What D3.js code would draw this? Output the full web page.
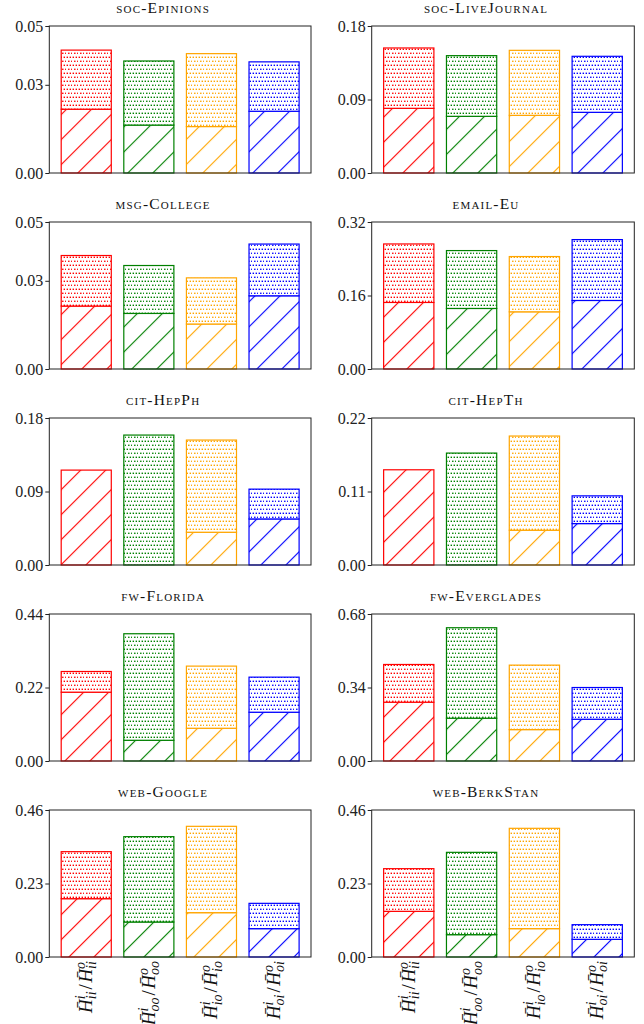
<!DOCTYPE html>
<html><head><meta charset="utf-8">
<script src="https://cdn.jsdelivr.net/npm/d3@7"></script>
<style>body{margin:0;background:#fff}</style>
</head><body>
<svg id="c" width="644" height="1024"></svg>
<script>
const datasets = ["soc-Epinions","soc-LiveJournal","msg-College","email-Eu","cit-HepPh","cit-HepTh","fw-Florida","fw-Everglades","web-Google","web-BerkStan"];
const categories = ["ii","oo","io","oi"];
const colors = ["#ff0000","#008000","#ffa500","#0000ff"];
const yMax = [0.05,0.18,0.05,0.32,0.18,0.22,0.44,0.68,0.46,0.46];
const yTicks = [[0,0.03,0.05],[0,0.09,0.18],[0,0.03,0.05],[0,0.16,0.32],[0,0.09,0.18],[0,0.11,0.22],[0,0.22,0.44],[0,0.34,0.68],[0,0.23,0.46],[0,0.23,0.46]];
// lower (hatched) segment: H^i
const hatchedValues = [
  [0.0217,0.0163,0.0158,0.0210],
  [0.0792,0.0694,0.0706,0.0743],
  [0.0214,0.0189,0.0153,0.0249],
  [0.1449,0.1318,0.1245,0.1492],
  [0.1162,0.0000,0.0401,0.0564],
  [0.1425,0.0000,0.0520,0.0620],
  [0.2060,0.0620,0.0980,0.1460],
  [0.2720,0.1979,0.1452,0.1932],
  [0.1825,0.1095,0.1387,0.0887],
  [0.1429,0.0699,0.0887,0.0553]
];
// upper (dotted) segment: H^o
const dottedValues = [
  [0.0201,0.0218,0.0248,0.0168],
  [0.0739,0.0743,0.0796,0.0686],
  [0.0172,0.0163,0.0157,0.0176],
  [0.1273,0.1260,0.1203,0.1325],
  [0.0000,0.1591,0.1129,0.0365],
  [0.0000,0.1675,0.1410,0.0415],
  [0.0619,0.3189,0.1860,0.1050],
  [0.1745,0.4186,0.2983,0.1467],
  [0.1471,0.2671,0.2702,0.0792],
  [0.1335,0.2576,0.3140,0.0459]
];
const supA = "i", supB = "o";

const svg = d3.select("#c");
const defs = svg.append("defs");
colors.forEach((c,k)=>{
  const h = defs.append("pattern").attr("id","hatch"+k).attr("patternUnits","userSpaceOnUse")
    .attr("width",17.68).attr("height",10).attr("patternTransform","rotate(45)");
  h.append("rect").attr("width",17.68).attr("height",10).attr("fill","#fff");
  h.append("rect").attr("x",0).attr("width",1.1).attr("height",10).attr("fill",c);
  const d = defs.append("pattern").attr("id","dots"+k).attr("patternUnits","userSpaceOnUse").attr("width",6).attr("height",8);
  d.append("rect").attr("width",6).attr("height",8).attr("fill","#fff");
  [[0.6,0.6],[3.6,0.6],[2.1,4.6],[5.1,4.6]].forEach(([px,py])=>{
    d.append("rect").attr("x",px).attr("y",py).attr("width",1.4).attr("height",1.4).attr("fill",c);
  });
});

const FONT = "'Liberation Serif', 'DejaVu Serif', serif";

datasets.forEach((name,p)=>{
  const col = p%2, row = Math.floor(p/2);
  const x0 = col ? 371.7 : 49.3, x1 = col ? 634.3 : 311;
  const top = 26 + row*196, bottom = top + 147;
  const x = d3.scaleBand().domain(categories).range([x0,x1]).paddingInner(0.2).paddingOuter(0.19);
  const y = d3.scaleLinear().domain([0,yMax[p]]).range([bottom,top]);
  const g = svg.append("g");
  categories.forEach((cat,k)=>{
    const b = hatchedValues[p][k], t = dottedValues[p][k];
    if (b > 0) g.append("rect").attr("x",x(cat)).attr("width",x.bandwidth())
      .attr("y",y(b)).attr("height",y(0)-y(b))
      .attr("fill",`url(#hatch${k})`).attr("stroke",colors[k]).attr("stroke-width",1.2);
    if (t > 0) g.append("rect").attr("x",x(cat)).attr("width",x.bandwidth())
      .attr("y",y(b+t)).attr("height",y(b)-y(b+t))
      .attr("fill",`url(#dots${k})`).attr("stroke",colors[k]).attr("stroke-width",1.2);
  });
  g.append("rect").attr("x",x0).attr("y",top).attr("width",x1-x0).attr("height",bottom-top)
    .attr("fill","none").attr("stroke","#222").attr("stroke-width",1);
  const ax = d3.axisLeft(y).tickValues(yTicks[p]).tickFormat(d3.format(".2f")).tickSize(4).tickPadding(2);
  const a = svg.append("g").attr("transform",`translate(${x0},0)`).call(ax);
  a.select(".domain").remove();
  a.selectAll("text").attr("font-family",FONT).attr("font-size",16).attr("fill","#222");
  a.selectAll("line").attr("stroke","#222");
  svg.append("text").attr("x",(x0+x1)/2 - 17).attr("y",top-13).attr("text-anchor","middle")
    .attr("font-family",FONT).attr("font-size",15.5).attr("letter-spacing",1.2)
    .style("font-variant","small-caps").attr("fill","#111")
    .text(name);
  if (row === 4) {
    categories.forEach((cat)=>{
      const t = svg.append("text").attr("font-family",FONT).attr("fill","#111");
      const H = "H\u0304";
      t.append("tspan").attr("font-style","italic").attr("font-size",19).text(H);
      const s1 = t.append("tspan").attr("font-style","italic").attr("font-size",14).attr("dy",-7).text(supA);
      const w1 = s1.node().getComputedTextLength();
      const b1 = t.append("tspan").attr("font-style","italic").attr("font-size",14).attr("dx",-w1).attr("dy",11.5).text(cat);
      const wb1 = b1.node().getComputedTextLength();
      t.append("tspan").attr("font-size",19).attr("dy",-4.5).attr("dx",Math.max(0,w1-wb1)+2).text("/");
      t.append("tspan").attr("font-style","italic").attr("font-size",19).attr("dx",1.5).text(H);
      const s2 = t.append("tspan").attr("font-style","italic").attr("font-size",14).attr("dy",-7).text(supB);
      const w2 = s2.node().getComputedTextLength();
      t.append("tspan").attr("font-style","italic").attr("font-size",14).attr("dx",-w2).attr("dy",11.5).text(cat);
      const bb = t.node().getBBox();
      const cx = x(cat) + x.bandwidth()/2;
      t.attr("transform",`translate(${cx},${bottom+4}) rotate(-90) translate(${-(bb.x+bb.width)},${-(bb.y+bb.height/2)})`);
    });
  }
});
</script>
</body></html>
